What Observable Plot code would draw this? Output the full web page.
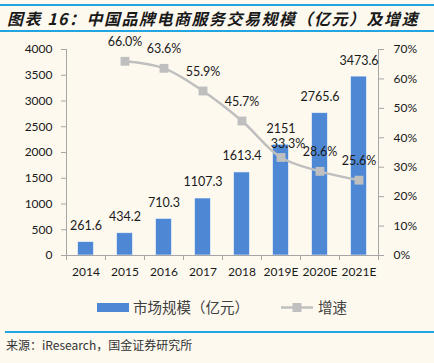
<!DOCTYPE html>
<html>
<head>
<meta charset="utf-8">
<script src="https://cdn.jsdelivr.net/npm/d3@7"></script>
<script src="https://cdn.jsdelivr.net/npm/@observablehq/plot@0.6"></script>
<style>
  html, body { margin: 0; padding: 0; background: #fdf9ef; }
  #wrap { position: relative; width: 434px; height: 363px; background: #fdf9ef; overflow: hidden; }
  #title { position: absolute; left: 0; top: 4px; width: 434px; height: 24px; border-top: 2px solid #22a6e2; border-bottom: 2px solid #22a6e2;
           font-family: "Noto Sans CJK SC", sans-serif; font-weight: bold; font-style: italic; font-size: 16px; line-height: 24px;
           letter-spacing: 1.5px; color: #1a1a1a; padding-left: 7px; box-sizing: content-box; }
  #chart { position: absolute; left: 0; top: 33px; }
  #legend { position: absolute; left: 0; top: 294px; width: 434px; height: 26px; font-family: "Noto Sans CJK SC", sans-serif; font-size: 14.5px; color: #404040; }
  #legend .sw { position: absolute; }
  #legend .lb { position: absolute; top: 3px; line-height: 20px; }
  #rule { position: absolute; left: 5px; top: 331px; width: 429px; height: 0; border-top: 2px solid #22a6e2; }
  #caption { position: absolute; left: 6px; top: 336px; font-family: "Noto Sans CJK SC", sans-serif; font-size: 12px; color: #333; line-height: 18px; }
</style>
</head>
<body>
<div id="wrap">
  <div id="title"></div>
  <div id="chart"></div>
  <div id="legend"></div>
  <div id="rule"></div>
  <div id="caption"></div>
</div>
<script>
const titleText = "图表 16：中国品牌电商服务交易规模（亿元）及增速";
const captionText = "来源：iResearch，国金证券研究所";
const years = ["2014", "2015", "2016", "2017", "2018", "2019E", "2020E", "2021E"];
const marketSize = [261.6, 434.2, 710.3, 1107.3, 1613.4, 2151, 2765.6, 3473.6];
const growthYears = ["2015", "2016", "2017", "2018", "2019E", "2020E", "2021E"];
const growthRate = [66.0, 63.6, 55.9, 45.7, 33.3, 28.6, 25.6];
const leftTicks = [0, 500, 1000, 1500, 2000, 2500, 3000, 3500, 4000];
const rightTicks = [0, 10, 20, 30, 40, 50, 60, 70];
const seriesNames = ["市场规模（亿元）", "增速"];

const barColor = "#4e88d4";
const lineColor = "#bfbfbf";
const axisColor = "#a6a6a6";
const textColor = "#1a1a1a";
const leftMax = leftTicks[leftTicks.length - 1];
const rightMax = rightTicks[rightTicks.length - 1];
const toLeft = p => p / rightMax * leftMax;

const bars = years.map((y, i) => ({i, year: y, v: marketSize[i]}));
const growth = growthYears.map((y, k) => ({i: years.indexOf(y), g: growthRate[k]}));
// label nudged right/down where it meets the bar label (as in the original)
const nudged = new Set(["2019E"]);

document.getElementById("title").textContent = titleText;
document.getElementById("caption").textContent = captionText;

const chart = Plot.plot({
  width: 434,
  height: 254,
  marginTop: 16,
  marginBottom: 32,
  marginLeft: 66,
  marginRight: 56,
  style: {background: "transparent", fontFamily: "Lato, sans-serif", fontSize: "12px", color: textColor},
  x: {type: "linear", domain: [-0.5, years.length - 0.5]},
  y: {domain: [0, leftMax]},
  marks: [
    Plot.rectY(bars, {x1: d => d.i - 0.205, x2: d => d.i + 0.205, y: "v", fill: barColor, stroke: "#ffffff", strokeOpacity: 0.6, strokeWidth: 1}),
    Plot.ruleY([0], {stroke: axisColor}),
    Plot.ruleX([-0.5, years.length - 0.5], {stroke: axisColor}),
    Plot.axisY({ticks: leftTicks, tickFormat: d => String(d), tickSize: 5, tickPadding: 9, stroke: axisColor, fill: textColor, label: null}),
    Plot.axisY({anchor: "right", ticks: rightTicks.map(toLeft), tickFormat: v => Math.round(v / leftMax * rightMax) + "%", tickSize: 5, tickPadding: 10, stroke: axisColor, fill: textColor, label: null}),
    Plot.axisX({ticks: d3.range(years.length + 1).map(k => k - 0.5), tickFormat: () => "", tickSize: 5, stroke: axisColor, label: null}),
    Plot.axisX({ticks: d3.range(years.length), tickFormat: i => years[i], tickSize: 0, tickPadding: 12, fill: textColor, label: null}),
    Plot.line(growth, {x: "i", y: d => toLeft(d.g), stroke: lineColor, strokeWidth: 2.5, curve: "catmull-rom"}),
    Plot.dot(growth, {x: "i", y: d => toLeft(d.g), symbol: "square", r: 5, fill: lineColor, stroke: "none"}),
    Plot.text(bars, {x: "i", y: "v", text: d => String(d.v), dy: -16, fill: textColor, fontSize: 12.5}),
    Plot.text(growth.filter(d => !nudged.has(years[d.i])), {x: "i", y: d => toLeft(d.g), text: d => d.g.toFixed(1) + "%", dy: -19, fill: textColor, fontSize: 12.5}),
    Plot.text(growth.filter(d => nudged.has(years[d.i])), {x: "i", y: d => toLeft(d.g), text: d => d.g.toFixed(1) + "%", dx: 7, dy: -14, fill: textColor, fontSize: 12.5})
  ]
});
document.getElementById("chart").appendChild(chart);

const legend = document.getElementById("legend");
legend.innerHTML = `
  <svg class="sw" style="left:97px;top:9px" width="32" height="9"><rect width="32" height="9" fill="${barColor}"/></svg>
  <span class="lb" style="left:133px">${seriesNames[0]}</span>
  <svg class="sw" style="left:281px;top:8px" width="32" height="11"><line x1="0" x2="32" y1="5.5" y2="5.5" stroke="${lineColor}" stroke-width="2.5"/><rect x="11.5" y="1" width="9" height="9" fill="${lineColor}"/></svg>
  <span class="lb" style="left:318px">${seriesNames[1]}</span>
`;
</script>
</body>
</html>
